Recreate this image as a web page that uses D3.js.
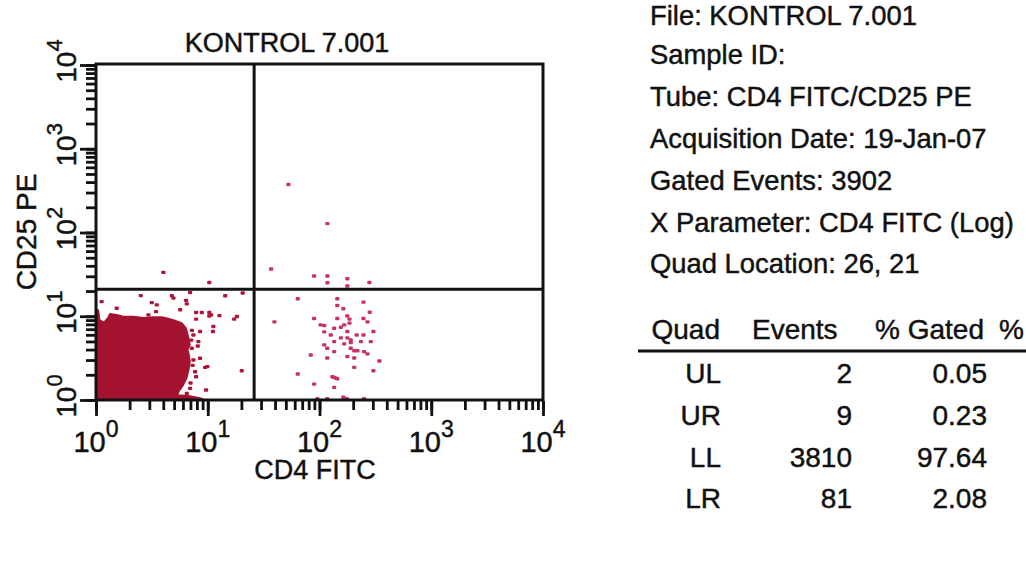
<!DOCTYPE html>
<html>
<head>
<meta charset="utf-8">
<script src="https://cdn.jsdelivr.net/npm/d3@7"></script>
<style>
  html, body { margin: 0; padding: 0; background: #ffffff; }
  svg { display: block; font-family: "Liberation Sans", Arial, Helvetica, sans-serif; }
  text { stroke: #111; stroke-width: 0.45px; }
</style>
</head>
<body>
<svg id="chart" width="1026" height="571"></svg>
<script>
// ---------------- DATA ----------------
const plotTitle = "KONTROL 7.001";
const xLabel = "CD4 FITC";
const yLabel = "CD25 PE";
const decadeValues = [1, 10, 100, 1000, 10000];
const decadeExponents = ["0", "1", "2", "3", "4"];
const quadX = 26;
const quadY = 21;

// dense lower-left population (outline of the solid region)
const blobCD4  = [1, 1.01, 1.05, 1.08, 1.18, 1.28, 1.33, 1.53, 1.75, 2.16, 2.65, 3.26, 3.87, 4.43, 5.09, 5.85, 6.39, 6.70, 6.94, 6.60, 6.76, 6.94, 6.76, 6.48, 6.04, 5.56, 5.34, 6.94, 8.52, 9.45, 1];
const blobCD25 = [1, 12.2, 11.8, 9.0, 8.5, 9.6, 10.7, 10.4, 9.95, 9.95, 9.6, 9.78, 9.78, 9.41, 8.91, 8.29, 7.22, 5.73, 4.56, 4.0, 3.62, 2.87, 2.29, 1.82, 1.51, 1.29, 1.15, 1.12, 1.06, 1, 1];

// scattered lower-left events
const llCD4  = [1.12, 1.53, 2.51, 3.15, 3.49, 3.44, 2.94, 4.76, 4.92, 5.65, 6.39, 6.48, 6.94, 7.85, 8.83, 10.3, 10.3, 12.7, 14.3, 20.5, 18.2, 17.2, 7.85, 8.52, 11.2, 11.1, 7.43, 8.23, 7.18, 8.52, 7.43, 9.45, 7.69, 7.85, 20.1, 9.64, 6.94, 6.48, 10.7, 9.91, 8.13, 7.2, 7.1, 7.3, 7.0];
const llCD25 = [15.0, 12.5, 17.7, 14.6, 13.7, 11.4, 10.4, 17.6, 16.5, 12.0, 15.5, 14.1, 19.3, 11.1, 11.1, 11.1, 10.1, 10.2, 17.6, 19.0, 9.95, 9.26, 9.26, 6.58, 7.55, 6.58, 6.0, 4.99, 4.16, 3.16, 3.01, 2.46, 2.18, 1.90, 2.24, 1.32, 1.38, 1.20, 10.4, 2.51, 4.43, 6.8, 5.2, 2.6, 1.6];

// upper-left events
const ulCD4  = [4.0, 10.3];
const ulCD25 = [33.5, 25.4];

// upper-right events
const urCD4  = [52.6, 117.5, 36.8, 89.3, 117.5, 177, 117.5, 279, 177];
const urCD25 = [376, 128, 36.7, 30.3, 30.3, 28.1, 25.2, 25.4, 23.0];

// lower-right events
const lrCD4  = [63.8, 144, 247, 144, 163, 281, 39.4, 89.3, 144, 177, 185, 247, 268, 102, 110, 135, 155, 166, 185, 110, 126, 177, 215, 247, 303, 155, 177, 190, 135, 110, 166, 190, 234, 287, 117, 135, 190, 204, 218, 250, 268, 83.4, 117, 177, 204, 343, 204, 303, 63.8, 135, 144, 89.3, 135, 95.5, 117, 163, 175, 250, 140, 130];
const lrCD25 = [16.2, 16.2, 14.8, 13.5, 12.3, 11.2, 8.59, 9.41, 9.41, 10.1, 9.26, 9.41, 8.59, 7.91, 7.76, 7.22, 7.42, 7.91, 8.29, 6.52, 6.0, 6.58, 6.0, 6.0, 6.58, 5.53, 5.53, 5.23, 4.99, 4.56, 4.69, 4.86, 4.99, 4.99, 4.16, 3.79, 4.16, 3.89, 3.89, 3.79, 3.56, 3.46, 3.18, 3.30, 3.18, 2.93, 2.46, 2.24, 2.05, 1.87, 1.80, 1.55, 1.42, 1.04, 1.04, 1.08, 1.04, 1.04, 1.83, 1.90];

// info panel
const infoLines = [
  "File: KONTROL 7.001",
  "Sample ID:",
  "Tube: CD4 FITC/CD25 PE",
  "Acquisition Date: 19-Jan-07",
  "Gated Events: 3902",
  "X Parameter: CD4 FITC (Log)",
  "Quad Location: 26, 21"
];
const tableHeaders = ["Quad", "Events", "% Gated", "%"];
const quadNames  = ["UL", "UR", "LL", "LR"];
const quadEvents = ["2", "9", "3810", "81"];
const quadPct    = ["0.05", "0.23", "97.64", "2.08"];

// ---------------- DRAW ----------------
const svg = d3.select("#chart");
const L = 96, R = 543, T = 65, B = 400;
const x = d3.scaleLog().domain([1, 10000]).range([L, R]);
const y = d3.scaleLog().domain([1, 10000]).range([B, T]);

const blobColor = "#a3132f";
const llColor = "#ad1636";
const hiColor = "#c9306a";

// dense blob
const blobPts = blobCD4.map((v, i) => [v, blobCD25[i]]);
svg.append("path")
  .datum(blobPts)
  .attr("d", d3.line().x(d => x(d[0])).y(d => y(d[1])))
  .attr("fill", blobColor)
  .attr("stroke", blobColor)
  .attr("stroke-width", 1.5)
  .attr("stroke-linejoin", "round");

function drawDots(xs, ys, color) {
  const pts = xs.map((v, i) => [v, ys[i]]);
  svg.append("g").selectAll("rect").data(pts).join("rect")
    .attr("x", d => x(d[0]) - 2)
    .attr("y", d => y(d[1]) - 1.6)
    .attr("width", 4.2)
    .attr("height", 3.4)
    .attr("rx", 1)
    .attr("fill", color);
}
drawDots(llCD4, llCD25, llColor);
drawDots(ulCD4, ulCD25, llColor);
drawDots(urCD4, urCD25, hiColor);
drawDots(lrCD4, lrCD25, hiColor);

// quadrant lines
svg.append("line").attr("x1", x(quadX)).attr("x2", x(quadX)).attr("y1", T).attr("y2", B)
  .attr("stroke", "#111").attr("stroke-width", 3);
svg.append("line").attr("x1", L).attr("x2", R).attr("y1", y(quadY)).attr("y2", y(quadY))
  .attr("stroke", "#111").attr("stroke-width", 3);

// frame
svg.append("rect").attr("x", L).attr("y", T - 1).attr("width", R - L).attr("height", B - T + 1)
  .attr("fill", "none").attr("stroke", "#111").attr("stroke-width", 3);

// axes ticks
function styleAxis(g) {
  g.select(".domain").remove();
  g.selectAll(".tick line").attr("stroke", "#111").attr("stroke-width", 2.8);
  g.selectAll(".tick text").remove();
}
svg.append("g").attr("transform", `translate(0,${B + 1})`)
  .call(d3.axisBottom(x).tickValues(x.ticks()).tickSize(9).tickFormat(""))
  .call(styleAxis);
svg.append("g").attr("transform", `translate(0,${B + 1})`)
  .call(d3.axisBottom(x).tickValues(decadeValues).tickSize(15).tickFormat(""))
  .call(styleAxis);
svg.append("g").attr("transform", `translate(${L - 1},0)`)
  .call(d3.axisLeft(y).tickValues(y.ticks()).tickSize(9).tickFormat(""))
  .call(styleAxis);
svg.append("g").attr("transform", `translate(${L - 1},0)`)
  .call(d3.axisLeft(y).tickValues(decadeValues).tickSize(15).tickFormat(""))
  .call(styleAxis);

// x tick labels
decadeValues.forEach((v, i) => {
  const t = svg.append("text")
    .attr("x", x(v)).attr("y", 452)
    .attr("text-anchor", "middle")
    .attr("font-size", 29).attr("fill", "#111");
  t.append("tspan").text("10");
  t.append("tspan").attr("dy", -15).attr("font-size", 23).text(decadeExponents[i]);
});
// y tick labels (rotated)
decadeValues.forEach((v, i) => {
  const t = svg.append("text")
    .attr("transform", `translate(76,${y(v) - 4}) rotate(-90)`)
    .attr("text-anchor", "middle")
    .attr("font-size", 28).attr("fill", "#111");
  t.append("tspan").text("10");
  t.append("tspan").attr("dy", -14).attr("font-size", 22).text(decadeExponents[i]);
});

// titles
svg.append("text").attr("x", 287).attr("y", 52).attr("text-anchor", "middle")
  .attr("font-size", 27).attr("fill", "#111").text(plotTitle);
svg.append("text").attr("x", 315).attr("y", 479).attr("text-anchor", "middle")
  .attr("font-size", 27).attr("fill", "#111").text(xLabel);
svg.append("text").attr("transform", "translate(36,232) rotate(-90)").attr("text-anchor", "middle")
  .attr("font-size", 28).attr("fill", "#111").text(yLabel);

// info panel
const infoBase = [25, 64, 106, 148, 190, 232, 273];
svg.append("g").selectAll("text").data(infoLines).join("text")
  .attr("x", 650).attr("y", (d, i) => infoBase[i])
  .attr("font-size", 27.4).attr("fill", "#111").text(d => d);

// table
const headX = [720, 752, 875, 999];
const headAnchor = ["end", "start", "start", "start"];
svg.append("g").selectAll("text").data(tableHeaders).join("text")
  .attr("x", (d, i) => headX[i]).attr("y", 339)
  .attr("text-anchor", (d, i) => headAnchor[i])
  .attr("font-size", 28).attr("fill", "#111").text(d => d);
svg.append("line").attr("x1", 638).attr("x2", 1026).attr("y1", 351).attr("y2", 351)
  .attr("stroke", "#111").attr("stroke-width", 3);
const rowBase = [383, 425, 467, 508];
const rows = svg.append("g");
quadNames.forEach((q, i) => {
  rows.append("text").attr("x", 721).attr("y", rowBase[i]).attr("text-anchor", "end")
    .attr("font-size", 28).attr("fill", "#111").text(q);
  rows.append("text").attr("x", 852).attr("y", rowBase[i]).attr("text-anchor", "end")
    .attr("font-size", 28).attr("fill", "#111").text(quadEvents[i]);
  rows.append("text").attr("x", 987).attr("y", rowBase[i]).attr("text-anchor", "end")
    .attr("font-size", 28).attr("fill", "#111").text(quadPct[i]);
});
</script>
</body>
</html>
